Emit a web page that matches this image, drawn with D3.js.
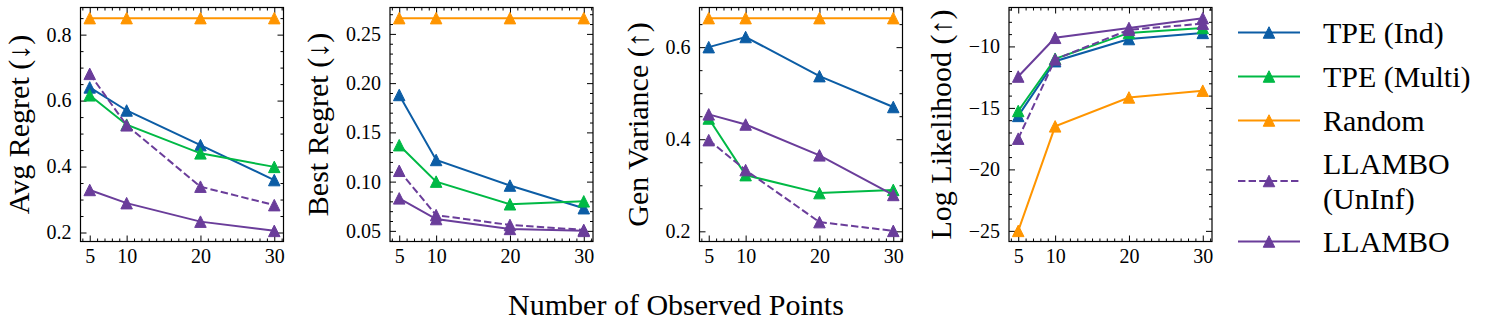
<!DOCTYPE html>
<html>
<head>
<meta charset="utf-8">
<script src="https://cdn.jsdelivr.net/npm/d3@7"></script>
<style>
  body { margin: 0; background: #fff; }
  text { font-family: "Liberation Serif", "DejaVu Serif", serif; fill: #000; }
</style>
</head>
<body>
<div id="chart"></div>
<script>
// ---- data ----
const xValues = [5, 10, 20, 30];
const xTickValues = [5, 10, 20, 30];
const methods = ["TPE (Ind)", "TPE (Multi)", "Random", "LLAMBO (UnInf)", "LLAMBO"];
const legendLabels = [["TPE (Ind)"], ["TPE (Multi)"], ["Random"], ["LLAMBO", "(UnInf)"], ["LLAMBO"]];

// one row per method, in the order of `methods`
const avgRegret = [
  [0.640, 0.570, 0.465, 0.359],
  [0.616, 0.527, 0.440, 0.399],
  [0.850, 0.850, 0.850, 0.850],
  [0.681, 0.525, 0.339, 0.283],
  [0.329, 0.289, 0.233, 0.205]
];
const bestRegret = [
  [0.188, 0.122, 0.096, 0.073],
  [0.137, 0.100, 0.077, 0.080],
  [0.266, 0.266, 0.266, 0.266],
  [0.111, 0.066, 0.056, 0.051],
  [0.083, 0.062, 0.052, 0.050]
];
const genVariance = [
  [0.600, 0.622, 0.537, 0.470],
  [0.445, 0.322, 0.283, 0.290],
  [0.663, 0.663, 0.663, 0.663],
  [0.398, 0.333, 0.220, 0.201],
  [0.454, 0.432, 0.365, 0.279]
];
const logLikelihood = [
  [-15.65, -11.20, -9.40, -8.90],
  [-15.25, -11.00, -8.90, -8.50],
  [-25.00, -16.50, -14.15, -13.60],
  [-17.50, -11.05, -8.65, -8.15],
  [-12.45, -9.30, -8.50, -7.70]
];

const panelTitles = ["Avg Regret (\u2193)", "Best Regret (\u2193)", "Gen Variance (\u2191)", "Log Likelihood (\u2191)"];
const panelData = [avgRegret, bestRegret, genVariance, logLikelihood];
const yTickValues = [
  [0.2, 0.4, 0.6, 0.8],
  [0.05, 0.10, 0.15, 0.20, 0.25],
  [0.2, 0.4, 0.6],
  [-25, -20, -15, -10]
];
const yTickFormats = [".1f", ".2f", ".1f", "d"];
const yMinorSteps = [0.05, 0.01, 0.05, 1];
const xLabel = "Number of Observed Points";

// ---- style / layout ----
const W = 1506, H = 329;
const colors = ["#0c5da5", "#00b945", "#ff9500", "#6a3d9a", "#6a3d9a"];
const dashed = [false, false, false, true, false];
const panel = { left0: 80.5, step: 309.5, width: 203, top: 7.5, bottom: 241.5 };
const tickFont = 20, labelFont = 30;

const svg = d3.select("#chart").append("svg")
  .attr("width", W).attr("height", H)
  .attr("viewBox", `0 0 ${W} ${H}`);

const tri = d3.symbol().type({
  draw(ctx, size) {
    const r = Math.sqrt(size) / 2;
    ctx.moveTo(0, -r); ctx.lineTo(r, r); ctx.lineTo(-r, r); ctx.closePath();
  }
}).size(11.5 * 11.5);

function minorValues(domain, step, majors) {
  const lo = Math.ceil(Math.min(...domain) / step - 1e-9);
  const hi = Math.floor(Math.max(...domain) / step + 1e-9);
  return d3.range(lo, hi + 1).map(k => +(k * step).toFixed(6))
    .filter(v => !majors.some(m => Math.abs(m - v) < 1e-9));
}

function styleAxis(g) {
  g.select(".domain").remove();
  g.selectAll(".tick line").attr("stroke", "#000").attr("stroke-width", 1);
  g.selectAll("text").attr("font-size", tickFont)
    .attr("font-family", '"Liberation Serif", "DejaVu Serif", serif');
}

panelData.forEach((data, p) => {
  const ph = panel.bottom - panel.top;
  const g = svg.append("g")
    .attr("transform", `translate(${panel.left0 + p * panel.step},${panel.top})`);

  const x = d3.scaleLinear().domain([3.75, 31.25]).range([0, panel.width]);
  const all = data.flat();
  const [lo, hi] = d3.extent(all);
  const pad = (hi - lo) * 0.05;
  const y = d3.scaleLinear().domain([lo - pad, hi + pad]).range([ph, 0]);

  const yMinor = minorValues(y.domain(), yMinorSteps[p], yTickValues[p]);
  const xMinor = minorValues(x.domain(), 1, xTickValues);

  // left axis with labels
  const leftAxis = g.append("g").call(d3.axisLeft(y).tickValues(yTickValues[p])
    .tickFormat(d3.format(yTickFormats[p])).tickSizeInner(-6).tickSizeOuter(0).tickPadding(9))
    .call(styleAxis);
  g.append("g").call(d3.axisLeft(y).tickValues(yMinor).tickFormat("")
    .tickSizeInner(-3).tickSizeOuter(0)).call(styleAxis);
  g.append("g").attr("transform", `translate(${panel.width},0)`)
    .call(d3.axisRight(y).tickValues(yTickValues[p]).tickFormat("").tickSizeInner(-6).tickSizeOuter(0))
    .call(styleAxis);
  g.append("g").attr("transform", `translate(${panel.width},0)`)
    .call(d3.axisRight(y).tickValues(yMinor).tickFormat("").tickSizeInner(-3).tickSizeOuter(0))
    .call(styleAxis);

  g.append("g").attr("transform", `translate(0,${ph})`)
    .call(d3.axisBottom(x).tickValues(xTickValues).tickFormat(d3.format("d"))
      .tickSizeInner(-6).tickSizeOuter(0).tickPadding(7))
    .call(styleAxis);
  g.append("g").attr("transform", `translate(0,${ph})`)
    .call(d3.axisBottom(x).tickValues(xMinor).tickFormat("").tickSizeInner(-3).tickSizeOuter(0))
    .call(styleAxis);
  g.append("g")
    .call(d3.axisTop(x).tickValues(xTickValues).tickFormat("").tickSizeInner(-6).tickSizeOuter(0))
    .call(styleAxis);
  g.append("g")
    .call(d3.axisTop(x).tickValues(xMinor).tickFormat("").tickSizeInner(-3).tickSizeOuter(0))
    .call(styleAxis);

  g.append("rect").attr("width", panel.width).attr("height", ph)
    .attr("fill", "none").attr("stroke", "#000").attr("stroke-width", 1.2);

  // series
  const line = d3.line().x((d, i) => x(xValues[i])).y(d => y(d));
  data.forEach((vals, m) => {
    g.append("path").datum(vals)
      .attr("d", line)
      .attr("fill", "none")
      .attr("stroke", colors[m])
      .attr("stroke-width", 2)
      .attr("stroke-dasharray", dashed[m] ? "7.4,3.2" : null);
    g.selectAll(null).data(vals).enter().append("path")
      .attr("d", tri)
      .attr("transform", (d, i) => `translate(${x(xValues[i])},${y(d)})`)
      .attr("fill", colors[m])
      .attr("stroke", colors[m])
      .attr("stroke-width", 1);
  });

  // y label
  const bb = leftAxis.node().getBBox();
  const lx = bb.x - 18;
  g.append("text")
    .attr("transform", `translate(${lx},${ph / 2}) rotate(-90)`)
    .attr("text-anchor", "middle")
    .attr("font-size", labelFont)
    .text(panelTitles[p]);
});

// x label
svg.append("text")
  .attr("x", 676).attr("y", 315)
  .attr("text-anchor", "middle")
  .attr("font-size", labelFont)
  .text(xLabel);

// legend
const legend = svg.append("g").attr("transform", "translate(1238,10.5)");
let cy = 0;
legendLabels.forEach((lines, m) => {
  const lh = 33, h = lines.length * lh + 11;
  const c = cy + h / 2;
  legend.append("line")
    .attr("x1", 0).attr("x2", 62).attr("y1", c).attr("y2", c)
    .attr("stroke", colors[m]).attr("stroke-width", 2)
    .attr("stroke-dasharray", dashed[m] ? "7.4,3.2" : null);
  legend.append("path").attr("d", tri)
    .attr("transform", `translate(31,${c})`)
    .attr("fill", colors[m]).attr("stroke", colors[m]).attr("stroke-width", 1);
  const t = legend.append("text")
    .attr("x", 85)
    .attr("font-size", labelFont);
  lines.forEach((s, k) => {
    t.append("tspan")
      .attr("x", 85)
      .attr("y", c + (k - (lines.length - 1) / 2) * 35)
      .attr("dy", "0.35em")
      .text(s);
  });
  cy += h;
});
</script>
</body>
</html>
